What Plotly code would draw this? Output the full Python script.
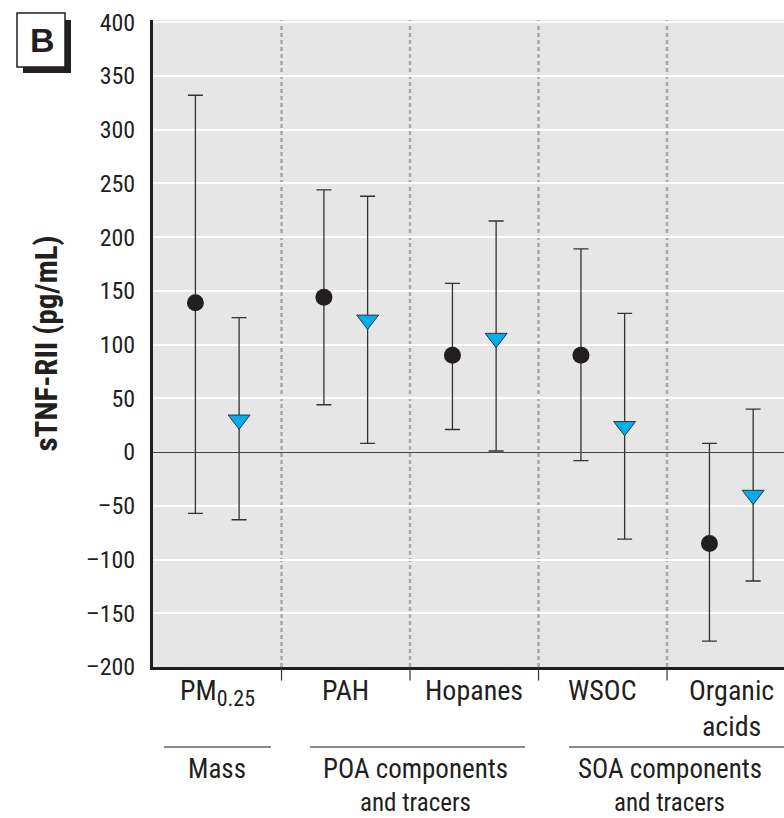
import plotly.graph_objects as go

categories = ["PM<sub><span style='font-size:22px'>0.25</span></sub>", "PAH", "Hopanes", "WSOC", "Organic<br>acids"]
group_line1 = ["Mass", "POA components", "SOA components"]
group_line2 = ["", "and tracers", "and tracers"]

circle_vals = [139, 144, 90, 90, -85]
circle_upper = [332, 244, 157, 189, 8]
circle_lower = [-57, 44, 21, -8, -176]

tri_vals = [30, 123, 106, 24, -40]
tri_upper = [125, 238, 215, 129, 40]
tri_lower = [-63, 8, 1, -81, -120]

y_ticks = list(range(-200, 401, 50))
y_ticktext = [("\u2013" + str(-v)) if v < 0 else str(v) for v in y_ticks]

FONT = "Liberation Sans Narrow, Roboto Condensed, Arial Narrow, Liberation Sans, sans-serif"
OFF = 0.17
n = len(categories)
xc = [i - OFF for i in range(n)]
xt = [i + OFF for i in range(n)]

fig = go.Figure()
fig.add_trace(go.Scatter(
    x=xc, y=circle_vals, mode="markers",
    marker=dict(symbol="circle", size=17, color="#231f20"),
    error_y=dict(type="data", symmetric=False,
                 array=[u - v for u, v in zip(circle_upper, circle_vals)],
                 arrayminus=[v - l for v, l in zip(circle_vals, circle_lower)],
                 color="#333333", thickness=1.3, width=7.5),
    showlegend=False))
fig.add_trace(go.Scatter(
    x=xt, y=tri_vals, mode="markers",
    marker=dict(symbol="triangle-down", size=19, color="#00aeef",
                line=dict(color="#333333", width=1)),
    error_y=dict(type="data", symmetric=False,
                 array=[u - v for u, v in zip(tri_upper, tri_vals)],
                 arrayminus=[v - l for v, l in zip(tri_vals, tri_lower)],
                 color="#333333", thickness=1.3, width=7.5),
    showlegend=False))

shapes = []
# dashed dividers and tick marks between categories
for i in range(n - 1):
    d = i + 0.5
    shapes.append(dict(type="line", xref="x", yref="paper", x0=d, x1=d, y0=0, y1=1,
                       line=dict(color="#a8a8a8", width=2.5, dash="4px,3px"), layer="below"))
    shapes.append(dict(type="line", xref="x", yref="paper", x0=d, x1=d, y0=0, y1=-0.021,
                       line=dict(color="#333333", width=1.2)))

# group underlines
group_lines = [(-0.414, 0.418), (0.722, 2.395), (2.737, 4.5)]
for x0, x1 in group_lines:
    shapes.append(dict(type="line", xref="x", yref="paper", x0=x0, x1=x1, y0=-0.1236, y1=-0.1236,
                       line=dict(color="#666666", width=1.5)))

# panel label box "B"
shapes.append(dict(type="rect", xref="paper", yref="paper", xsizemode="pixel", ysizemode="pixel",
                   xanchor=0, yanchor=1, x0=-130, x1=-82, y0=0, y1=-53,
                   fillcolor="#231f20", line=dict(width=0), layer="above"))
shapes.append(dict(type="rect", xref="paper", yref="paper", xsizemode="pixel", ysizemode="pixel",
                   xanchor=0, yanchor=1, x0=-136, x1=-88, y0=7, y1=-47,
                   fillcolor="white", line=dict(color="#231f20", width=1.5), layer="above"))

annotations = []
for i, c in enumerate(categories):
    annotations.append(dict(x=i, y=0, xref="x", yref="paper", text=c, showarrow=False,
                            yanchor="top", yshift=-5, font=dict(family=FONT, size=28, color="#231f20")))
group_centers = [0.0, 1.54, 3.52]
for gx, g1, g2 in zip(group_centers, group_line1, group_line2):
    annotations.append(dict(x=gx, y=0, xref="x", yref="paper", text=g1, showarrow=False,
                            yanchor="middle", yshift=-102, font=dict(family=FONT, size=27, color="#231f20")))
    if g2:
        annotations.append(dict(x=gx, y=0, xref="x", yref="paper", text=g2, showarrow=False,
                                yanchor="middle", yshift=-135, font=dict(family=FONT, size=25, color="#231f20")))
annotations.append(dict(x=0, y=1, xref="paper", yref="paper", xshift=-111, yshift=-20,
                        text="<b>B</b>", showarrow=False, xanchor="center", yanchor="middle",
                        font=dict(family="Liberation Sans, Arial, sans-serif", size=34, color="#231f20")))

fig.update_layout(
    width=784, height=818,
    margin=dict(l=153, r=0, t=20, b=151),
    paper_bgcolor="white", plot_bgcolor="#e6e6e6",
    font=dict(family=FONT, size=24, color="#231f20"),
    shapes=shapes, annotations=annotations,
    xaxis=dict(range=[-0.5, 4.41], showgrid=False, zeroline=False, showticklabels=False,
               ticks="", showline=True, linecolor="#231f20", linewidth=3, fixedrange=True),
    yaxis=dict(range=[-200, 402], tickvals=y_ticks, ticktext=y_ticktext,
               showgrid=True, gridcolor="white", gridwidth=2,
               zeroline=True, zerolinecolor="#444444", zerolinewidth=1.2,
               showline=True, linecolor="#231f20", linewidth=3, ticks="",
               ticklabelstandoff=10,
               tickfont=dict(family=FONT, size=24, color="#231f20"),
               title=dict(text="<b>sTNF-RII (pg/mL)</b>", standoff=20,
                          font=dict(family=FONT, size=31, color="#231f20"))),
)

fig.write_html("out.html")
